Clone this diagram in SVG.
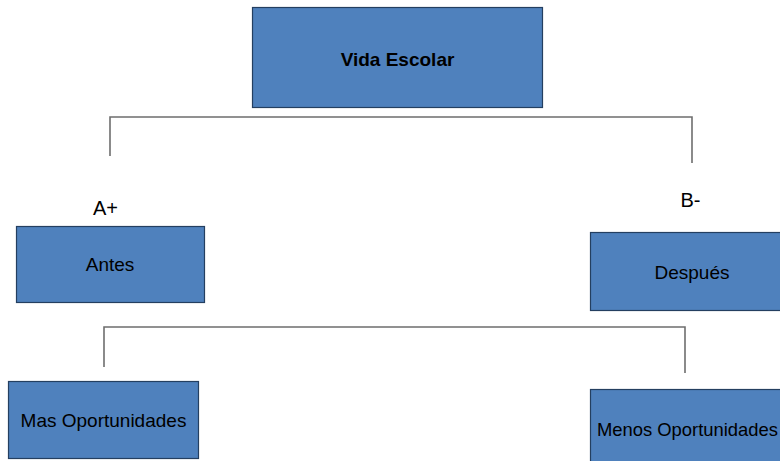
<svg xmlns="http://www.w3.org/2000/svg" width="780" height="461" viewBox="0 0 780 461">
<style>
.box{fill:#4F81BD;stroke:#243F60;stroke-width:1.2}
.t{font-family:"Liberation Sans",Arial,sans-serif;font-size:19px;fill:#000;text-anchor:middle}
.b{font-weight:bold}
.lbl{font-family:"Liberation Sans",Arial,sans-serif;font-size:20px;fill:#000;text-anchor:middle}
.c{fill:none;stroke:#6e6e6e;stroke-width:1.6}
</style>
<rect width="780" height="461" fill="#fff"/>
<g id="connectors">
<path class="c" d="M110,156 V117 H692 V163"/>
<path class="c" d="M104,367 V327 H685 V373"/>
</g>
<g id="vida"><rect class="box" x="252.5" y="7.5" width="290" height="100"/><text class="t b" x="397.5" y="66">Vida Escolar</text></g>
<g id="aplus"><text class="lbl" x="105.5" y="215">A+</text></g>
<g id="bminus"><text class="lbl" x="690.5" y="207">B-</text></g>
<g id="antes"><rect class="box" x="16.5" y="226.5" width="188" height="76"/><text class="t" x="110" y="271">Antes</text></g>
<g id="despues"><rect class="box" x="590.5" y="232.5" width="204" height="78"/><text class="t" x="692" y="279">Después</text></g>
<g id="mas"><rect class="box" x="8.5" y="381.5" width="190" height="77"/><text class="t" x="103.5" y="427">Mas Oportunidades</text></g>
<g id="menos"><rect class="box" x="590.5" y="389.5" width="204" height="80"/><text class="t" x="597" y="436" style="text-anchor:start;font-size:18.4px">Menos Oportunidades</text></g>
</svg>
